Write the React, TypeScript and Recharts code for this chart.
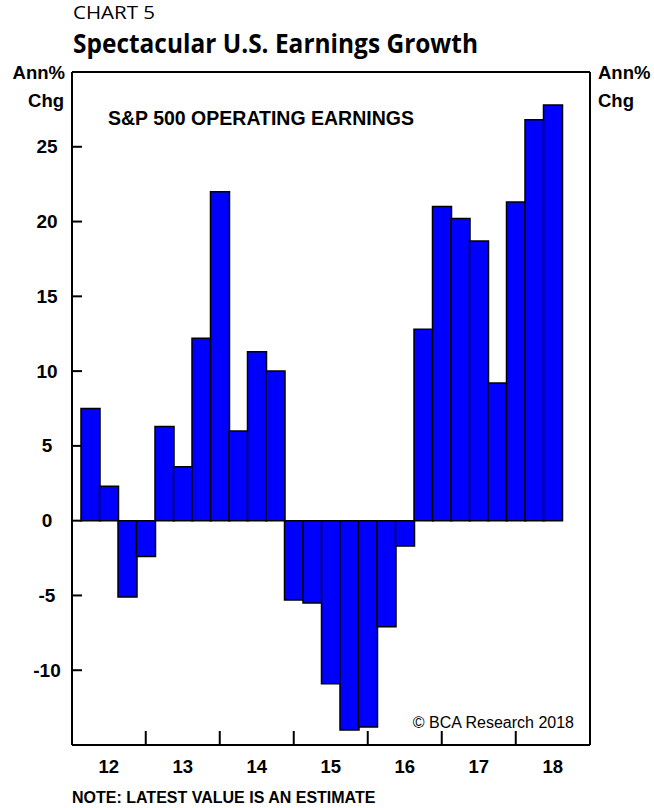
import { BarChart, Bar, XAxis, YAxis, ReferenceLine } from 'recharts';

const quarters = [
  '2012Q1', '2012Q2', '2012Q3', '2012Q4',
  '2013Q1', '2013Q2', '2013Q3', '2013Q4',
  '2014Q1', '2014Q2', '2014Q3', '2014Q4',
  '2015Q1', '2015Q2', '2015Q3', '2015Q4',
  '2016Q1', '2016Q2', '2016Q3', '2016Q4',
  '2017Q1', '2017Q2', '2017Q3', '2017Q4',
  '2018Q1', '2018Q2',
];

// S&P 500 operating earnings, annual % change
const earningsGrowth = [
  7.5, 2.3, -5.1, -2.4,
  6.3, 3.6, 12.2, 22.0,
  6.0, 11.3, 10.0, -5.3,
  -5.5, -10.9, -14.0, -13.8,
  -7.1, -1.7, 12.8, 21.0,
  20.2, 18.7, 9.2, 21.3,
  26.8, 27.8,
];

const yearLabels = ['12', '13', '14', '15', '16', '17', '18'];
const yTicks = [-10, -5, 0, 5, 10, 15, 20, 25];

const data = quarters.map((q, i) => ({ q, value: earningsGrowth[i] }));

const bold = { fontFamily: 'Liberation Sans, Arial, sans-serif', fontWeight: 700 };

// year label under Q2, tick mark at Q4 (year boundary)
const XTick = (props: any) => {
  const { x, y, payload } = props;
  const i = quarters.indexOf(payload.value);
  if (i % 4 === 1) {
    return (
      <text x={x} y={y + 28} textAnchor="middle" fontSize={18.5} fill="#000" style={bold}>
        {yearLabels[Math.floor(i / 4)]}
      </text>
    );
  }
  if (i % 4 === 3) {
    return <line x1={x} x2={x} y1={y} y2={y - 14} stroke="#000" strokeWidth={2} />;
  }
  return <g />;
};

const LeftTick = (props: any) => {
  const { x, y, payload } = props;
  return (
    <g>
      <line x1={x} x2={x + 10} y1={y} y2={y} stroke="#000" strokeWidth={2} />
      <text x={x - 25} y={y + 6.5} textAnchor="middle" fontSize={19} fill="#000" style={bold}>
        {payload.value}
      </text>
    </g>
  );
};

const RightTick = (props: any) => {
  const { x, y, payload } = props;
  return (
    <g>
      <line x1={x} x2={x - 10} y1={y} y2={y} stroke="#000" strokeWidth={2} />
      <text x={x + 28} y={y + 6.5} textAnchor="middle" fontSize={19} fill="#000" style={bold}>
        {payload.value}
      </text>
    </g>
  );
};

export default function App() {
  return (
    <div style={{ position: 'absolute', left: 0, top: 0, width: 654, height: 808, background: '#fff' }}>
      <BarChart
        width={654}
        height={808}
        data={data}
        margin={{ top: 72, right: 24, bottom: 33, left: 32 }}
        barCategoryGap={0}
      >
        <XAxis
          dataKey="q"
          interval={0}
          padding={{ left: 9, right: 28 }}
          axisLine={{ stroke: '#000', strokeWidth: 2 }}
          tickLine={false}
          tickSize={0}
          tickMargin={0}
          tick={XTick}
          height={30}
        />
        <YAxis
          yAxisId="left"
          domain={[-15, 30]}
          ticks={yTicks}
          width={40}
          axisLine={{ stroke: '#000', strokeWidth: 2 }}
          tickLine={false}
          tickSize={0}
          tickMargin={0}
          tick={LeftTick}
        />
        <YAxis
          yAxisId="right"
          orientation="right"
          domain={[-15, 30]}
          ticks={yTicks}
          width={40}
          axisLine={{ stroke: '#000', strokeWidth: 2 }}
          tickLine={false}
          tickSize={0}
          tickMargin={0}
          tick={RightTick}
        />
        <ReferenceLine yAxisId="left" y={30} stroke="#000" strokeWidth={2} />
        <Bar
          yAxisId="left"
          dataKey="value"
          fill="#0000ff"
          stroke="#000"
          strokeWidth={1.5}
          isAnimationActive={false}
        />
      </BarChart>
      <svg
        width={654}
        height={808}
        style={{ position: 'absolute', left: 0, top: 0, pointerEvents: 'none' }}
      >
        <text x={73} y={19} fontSize={19} fill="#000" fontFamily="Open Sans, sans-serif" textLength={82} lengthAdjust="spacingAndGlyphs">
          CHART 5
        </text>
        <text x={73} y={53} fontSize={27} fontWeight={700} fill="#000" fontFamily="Open Sans, sans-serif" textLength={405} lengthAdjust="spacingAndGlyphs">
          Spectacular U.S. Earnings Growth
        </text>
        <text x={65} y={79} textAnchor="end" fontSize={18.5} fill="#000" style={bold}>Ann%</text>
        <text x={64} y={107} textAnchor="end" fontSize={18.5} fill="#000" style={bold}>Chg</text>
        <text x={598} y={79} fontSize={18.5} fill="#000" style={bold}>Ann%</text>
        <text x={598} y={107} fontSize={18.5} fill="#000" style={bold}>Chg</text>
        <text x={108} y={125} fontSize={19.5} fill="#000" style={bold}>S&amp;P 500 OPERATING EARNINGS</text>
        <text x={574} y={728} textAnchor="end" fontSize={16} fill="#000" fontFamily="Liberation Sans, Arial, sans-serif">
          © BCA Research 2018
        </text>
        <text x={72} y={803} fontSize={16} fill="#000" style={bold}>NOTE: LATEST VALUE IS AN ESTIMATE</text>
      </svg>
    </div>
  );
}
